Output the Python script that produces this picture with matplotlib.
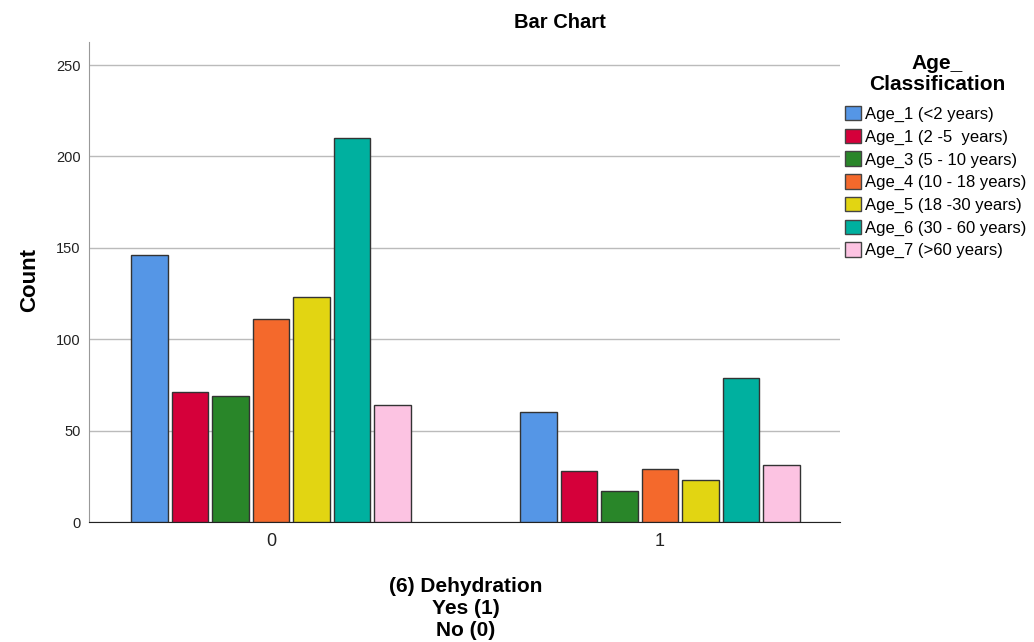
import numpy as np
import matplotlib.pyplot as plt
from matplotlib.patches import Patch

plt.rcParams['font.family'] = ['Liberation Sans', 'DejaVu Sans']

# Данные
groups = ['0', '1']
age_labels = ['Age_1 (<2 years)', 'Age_1 (2 -5  years)', 'Age_3 (5 - 10 years)',
              'Age_4 (10 - 18 years)', 'Age_5 (18 -30 years)', 'Age_6 (30 - 60 years)',
              'Age_7 (>60 years)']
counts_0 = [146, 71, 69, 111, 123, 210, 64]
counts_1 = [60, 28, 17, 29, 23, 79, 31]
colors = ['#5596E6', '#D5003A', '#298629', '#F4692C', '#E2D512', '#00B09F', '#FCC3E2']

fig = plt.figure(figsize=(10.34, 6.42), dpi=100)
ax = fig.add_axes([0.0861, 0.1869, 0.7263, 0.7477])

x = np.arange(len(groups))
slot = 0.104
width = 0.094
for i, lab in enumerate(age_labels):
    vals = [counts_0[i], counts_1[i]]
    ax.bar(x + (i - 3) * slot, vals, width, color=colors[i], edgecolor='#333333',
           linewidth=1.0, zorder=3, label=lab)

ax.set_xlim(-0.468, 1.463)
ax.set_ylim(0, 262.6)
ax.set_yticks([0, 50, 100, 150, 200, 250])
ax.set_xticks(x)
ax.set_xticklabels(groups, fontsize=13)
ax.tick_params(axis='y', labelsize=10.5, colors='#222222', length=0, pad=6)
ax.tick_params(axis='x', length=0, pad=8, colors='#222222')
ax.grid(axis='y', color='#BBBBBB', linewidth=1, zorder=0)

for s in ['top', 'right']:
    ax.spines[s].set_visible(False)
ax.spines['left'].set_color('#999999')
ax.spines['bottom'].set_color('#222222')

fig.text(560 / 1034, 1 - 22 / 642, 'Bar Chart', fontsize=14.5, fontweight='bold',
         ha='center', va='center')
fig.text(30 / 1034, 1 - 280 / 642, 'Count', fontsize=16, fontweight='bold',
         rotation=90, ha='center', va='center')
fig.text(466 / 1034, 1 - 608 / 642, '(6) Dehydration\nYes (1)\nNo (0)', fontsize=15,
         fontweight='bold', ha='center', va='center', linespacing=1.2,
         multialignment='center')

# заголовок легенды отдельно
fig.text(937 / 1034, 1 - 74 / 642, 'Age_\nClassification', fontsize=15, fontweight='bold',
         ha='center', va='center', linespacing=1.1, multialignment='center')

handles = [Patch(facecolor=c, edgecolor='#444444', label=l) for c, l in zip(colors, age_labels)]
leg = fig.legend(handles=handles, loc='upper left',
                 bbox_to_anchor=(845 / 1034, 1 - 106 / 642), frameon=False, fontsize=12,
                 handlelength=0.95, handleheight=0.95, handletextpad=0.25,
                 labelspacing=0.4, borderaxespad=0, borderpad=0)

fig.savefig('out.png', dpi=100)
